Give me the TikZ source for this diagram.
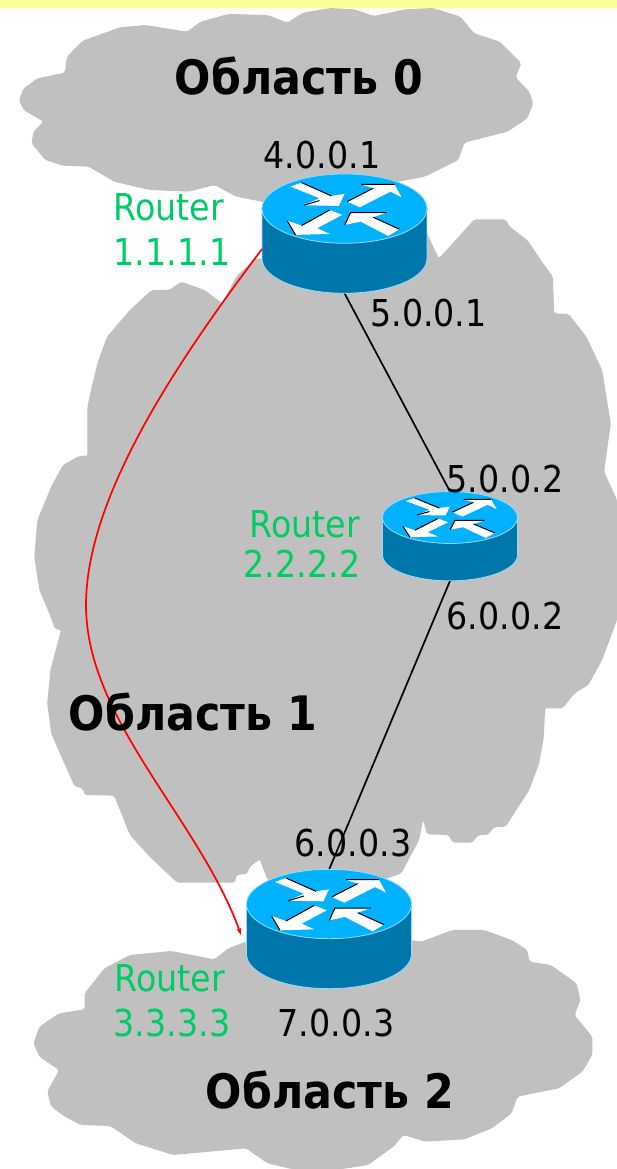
\documentclass[tikz,border=0pt]{standalone}
\usepackage{fontspec}
\setmainfont{DejaVu Sans Condensed}[BoldFont={DejaVu Sans Condensed Bold}]
\usetikzlibrary{arrows.meta}
\definecolor{cloudgray}{RGB}{192,192,192}
\definecolor{striphue}{RGB}{255,255,153}
\definecolor{routertop}{RGB}{0,178,255}
\definecolor{routerside}{RGB}{0,119,170}
\definecolor{routeredge}{RGB}{150,220,250}
\definecolor{greenlabel}{RGB}{0,204,102}
\tikzset{
  x=1pt,y=-1pt,
  cloudshape/.style={fill=cloudgray,draw=none,rounded corners=2pt},
  addr/.style={anchor=base,inner sep=0pt,text=black,font=\fontsize{37}{37}\selectfont},
  rname/.style={anchor=base,inner sep=0pt,text=greenlabel,font=\fontsize{37}{37}\selectfont},
  area/.style={anchor=base,inner sep=0pt,text=black,font=\fontsize{47.5}{47.5}\selectfont\bfseries},
  routerbox/.style={inner sep=0pt,draw=none,fill=none,minimum width=#1},
  link/.style={draw=black,line width=1.7pt},
  redlink/.style={draw=red,line width=1.7pt,-{Stealth[length=7pt,width=4.5pt]}},
  routerpic/.pic={
    \begin{scope}[x=.3333pt,y=-.3333pt]
      \path[fill=routerside,draw=routeredge,line width=.8pt] (-247.5,0) -- (-247.5,150)
        arc[start angle=180,end angle=360,x radius=247.5,y radius=-104] -- (247.5,0) -- cycle;
      \path[fill=routertop,draw=routeredge,line width=.8pt] (0,0) ellipse[x radius=247.5,y radius=104];
      \fill[white] (-162,-66)--(-129,-78)--(-39,-38)--(0,-44)--(-17,-8)--(-122,-10)--(-75,-31)--cycle;
      \draw[black,line width=1pt] (-129,-78)--(-39,-38) (-122,-10)--(-75,-24);
      \fill[white] (8,-21)--(86,-61)--(50,-73)--(150,-73)--(171,-34)--(138,-51)--(46,-4)--cycle;
      \draw[black,line width=1pt] (8,-21)--(86,-61) (50,-73)--(150,-73);
      \fill[white] (-7,19)--(-44,4)--(-129,51)--(-172,36)--(-147,79)--(-44,76)--(-82,59)--cycle;
      \draw[black,line width=1pt] (-44,4)--(-129,51) (-172,36)--(-147,79);
      \fill[white] (1,49)--(18,12)--(126,12)--(86,26)--(165,62)--(131,82)--(48,39)--cycle;
      \draw[black,line width=1pt] (1,49)--(18,12)--(126,12) (86,26)--(165,62);
    \end{scope}
  }
}
\begin{document}
\begin{tikzpicture}
\useasboundingbox (0,0) rectangle (617,1169);
\fill[white] (0,0) rectangle (617,1169);
\fill[striphue] (0,0) rectangle (617,8);
\begin{scope}[x=.39355pt,y=-.33333pt]
  % area 1
  \path[cloudshape] (1085,700)--(1115,775)--(1150,730)--(1205,658)--(1285,658)--(1295,680)--(1340,720)--(1380,790)--(1405,830)--(1408,940)--(1445,942)--(1490,1010)--(1530,1110)--(1552,1270)--(1535,1415)--(1568,1500)--(1568,1860)--(1530,1980)--(1495,2055)--(1460,2080)--(1430,2125)--(1385,2125)--(1382,2210)--(1370,2290)--(1345,2370)--(1285,2480)--(1255,2482)--(1240,2505)--(1215,2505)--(1200,2528)--(1150,2528)--(1140,2505)--(1085,2503)--(1075,2460)--(1065,2520)--(1020,2620)--(830,2700)--(680,2640)--(660,2578)--(635,2600)--(628,2622)--(600,2625)--(598,2648)--(450,2648)--(380,2570)--(330,2505)--(290,2387)--(215,2385)--(210,2365)--(190,2360)--(165,2295)--(130,2200)--(120,2110)--(128,2010)--(155,1890)--(140,1888)--(125,1840)--(100,1770)--(87,1670)--(95,1560)--(130,1460)--(160,1395)--(200,1368)--(222,1368)--(222,1220)--(235,1150)--(250,1080)--(272,1010)--(330,930)--(385,870)--(430,870)--(460,845)--(520,870)--(565,910)--(600,830)--(650,775)--(850,800)--cycle;
  % area 0
  \path[cloudshape] (48,300)--(60,265)--(95,235)--(165,218)--(170,170)--(210,122)--(305,82)--(370,75)--(475,95)--(510,65)--(580,42)--(680,45)--(730,68)--(770,38)--(840,24)--(900,28)--(950,48)--(1030,28)--(1100,24)--(1170,50)--(1205,100)--(1270,125)--(1325,190)--(1310,232)--(1345,275)--(1355,310)--(1340,355)--(1290,395)--(1180,428)--(1165,480)--(1080,530)--(1000,548)--(850,650)--(665,605)--(600,590)--(545,555)--(480,575)--(380,570)--(290,545)--(225,500)--(160,497)--(115,480)--(80,430)--(85,395)--(110,365)--(60,330)--cycle;
  % area 2
  \path[cloudshape] (85,3130)--(100,3080)--(150,3040)--(215,3028)--(215,2980)--(265,2905)--(330,2865)--(435,2853)--(545,2878)--(580,2845)--(625,2825)--(850,2900)--(1045,2820)--(1070,2825)--(1150,2790)--(1230,2790)--(1300,2820)--(1340,2850)--(1345,2885)--(1400,2895)--(1465,2950)--(1475,3000)--(1460,3045)--(1505,3110)--(1505,3165)--(1480,3215)--(1420,3265)--(1315,3290)--(1300,3340)--(1250,3385)--(1180,3418)--(1080,3425)--(1025,3405)--(1000,3440)--(935,3495)--(870,3507)--(740,3507)--(680,3490)--(625,3445)--(440,3465)--(345,3430)--(280,3378)--(205,3375)--(165,3350)--(130,3320)--(120,3275)--(150,3210)--(100,3170)--cycle;
\end{scope}
% router frames (invisible, they carry the connector anchors)
\node[routerbox=165pt,minimum height=119pt] (r1) at (344.5,233.5) {};
\node[routerbox=135pt,minimum height=89pt] (r2) at (450,536.2) {};
\node[routerbox=165pt,minimum height=118pt] (r3) at (329,929) {};
\coordinate (redstart) at (262,249);
\coordinate (redend) at (241,935);
\coordinate (redmid) at (86,605);
% connectors
\draw[link] (r1.south) -- (r2.north);
\draw[link] (r2.south) -- (r3.north);
% routers
\pic at (344.5,208.6) {routerpic};
\pic[xscale=.818,yscale=.748] at (450,517.5) {routerpic};
\pic at (329,904) {routerpic};
\draw[redlink] (redstart) .. controls (190,345) and (86,490) .. (redmid) .. controls (86,720) and (200,820) .. (redend);
% texts
\node[area] (a0) at (299,95) {Область 0};
\node[area] (a1) at (193,730) {Область 1};
\node[area] (a2) at (330,1108) {Область 2};
\node[addr] (t1) at (322,168) {4.0.0.1};
\node[addr] (t2) at (428.5,326.7) {5.0.0.1};
\node[addr] (t3) at (505,492) {5.0.0.2};
\node[addr] (t4) at (505,629) {6.0.0.2};
\node[addr] (t5) at (353,856) {6.0.0.3};
\node[addr] (t6) at (336,1036.7) {7.0.0.3};
\node[rname] (n1) at (169,220) {Router};
\node[rname] (n2) at (172,265) {1.1.1.1};
\node[rname] (n3) at (305,537) {Router};
\node[rname] (n4) at (302,577) {2.2.2.2};
\node[rname] (n5) at (170,991.7) {Router};
\node[rname] (n6) at (172,1036.7) {3.3.3.3};
\end{tikzpicture}
\end{document}
